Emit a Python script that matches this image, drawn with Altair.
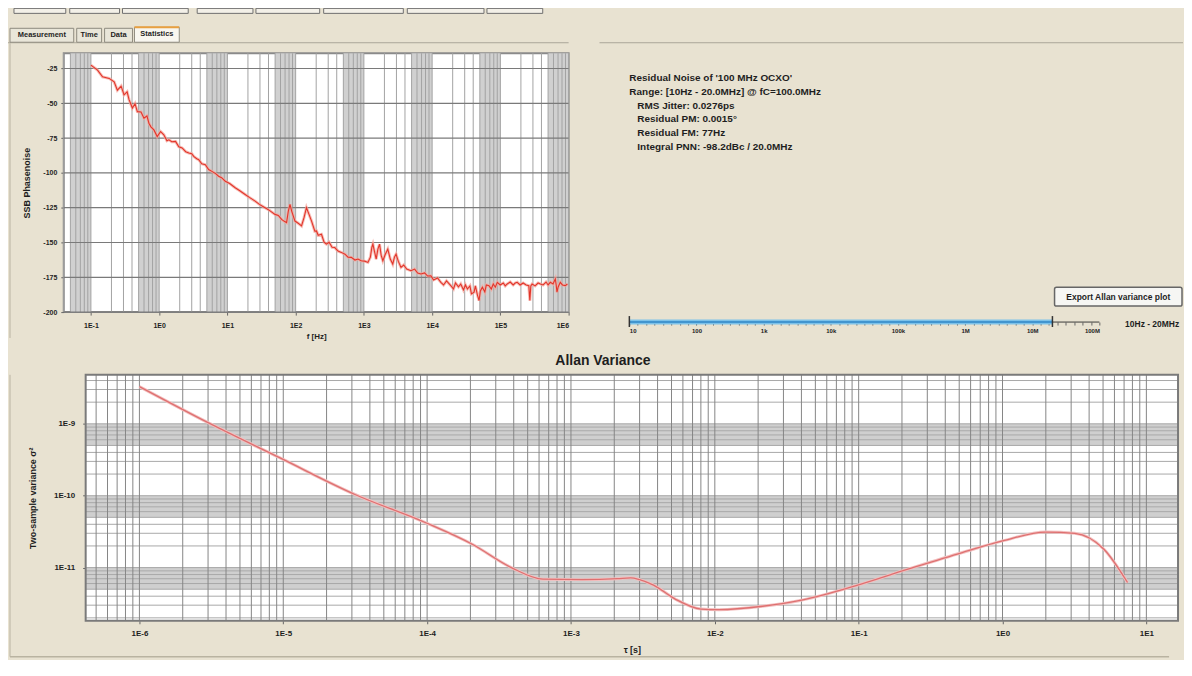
import altair as alt
import pandas as pd

FONT = "Liberation Sans"
INK = "#1e1e1e"
BG = "#e8e2d1"
FRAME = "#b9b3a1"

# ---------------- data: SSB phase noise (top plot) ----------------
pn_freq = [0.100, 0.125, 0.148, 0.185, 0.219, 0.244, 0.277, 0.306, 0.339, 0.362,
           0.405, 0.443, 0.479, 0.542, 0.599, 0.662, 0.708, 0.757, 0.838, 0.936,
           1.05, 1.17, 1.30, 1.39, 1.53, 1.74, 1.94, 2.17, 2.45, 2.72,
           3.00, 3.21, 3.55, 3.80, 4.21, 4.75, 5.31, 5.93, 6.72, 7.43,
           8.22, 9.31, 10.8, 13.0, 15.0, 18.2, 21.0, 25.5, 29.4, 35.6,
           41.2, 49.9, 55.7, 62.3, 68.2, 73.6, 78.0, 82.6, 87.7, 97.7,
           109, 122, 133, 144, 155, 171, 191, 202, 214, 239,
           261, 282, 309, 342, 374, 418, 467, 528, 585, 653,
           740, 818, 914, 1025, 1146, 1245, 1309, 1355, 1426, 1514,
           1603, 1696, 1790, 1896, 2061, 2240, 2437, 2648, 2805, 2960,
           3188, 3499, 3834, 4238, 4895, 5544, 6134, 6855, 7763, 8586,
           9594, 10500, 12000, 13430, 14700, 16250, 18770, 20560, 21980, 24320,
           26260, 28760, 30760, 32890, 35800, 37660, 41210, 43060, 46040, 48740,
           50930, 54460, 59190, 62250, 68110, 73560, 78710, 84210, 90140, 99600,
           110200, 117900, 126100, 139400, 154100, 164900, 176300, 195000, 215600, 238600,
           261200, 270300, 279300, 291700, 322800, 357100, 385500, 422500, 467000, 500000,
           539800, 590700, 638100, 657700, 675000, 703000, 754800, 812800, 893300, 961600]
pn_dbc = [-22.6, -26.2, -31.0, -32.1, -34.6, -40.6, -37.7, -43.9, -41.8, -47.4,
          -53.4, -50.3, -56.0, -56.2, -60.7, -59.1, -64.3, -66.9, -69.1, -73.9,
          -70.3, -72.6, -76.9, -76.2, -77.6, -77.4, -81.2, -82.1, -84.8, -85.7,
          -86.2, -88.1, -89.8, -90.5, -93.4, -94.1, -97.6, -98.9, -100.5, -102.4,
          -103.4, -106.0, -107.6, -110.7, -112.6, -115.5, -117.6, -120.3, -122.6, -125.0,
          -126.9, -129.8, -130.5, -133.4, -134.8, -135.7, -127.6, -122.6, -127.6, -134.6,
          -136.2, -138.1, -131.9, -125.0, -129.1, -134.6, -141.9, -141.7, -144.8, -144.1,
          -149.8, -151.2, -149.8, -153.4, -153.6, -156.2, -157.1, -158.4, -160.5, -160.7,
          -162.6, -161.9, -163.1, -163.4, -164.3, -160.5, -153.4, -151.2, -156.2, -161.9,
          -154.8, -151.2, -159.1, -163.1, -158.4, -154.8, -161.9, -165.5, -160.5, -158.4,
          -163.4, -167.9, -166.2, -169.1, -170.3, -169.1, -171.9, -172.6, -171.9, -174.1,
          -173.9, -176.9, -175.5, -178.6, -180.5, -177.6, -181.0, -183.4, -179.1, -181.9,
          -179.8, -184.1, -180.5, -183.4, -181.2, -186.9, -185.7, -181.2, -187.6, -191.7,
          -184.8, -182.1, -185.5, -180.5, -181.0, -183.4, -179.8, -182.1, -178.6, -180.5,
          -179.1, -181.2, -179.8, -178.4, -180.5, -179.1, -178.6, -180.5, -179.1, -180.5,
          -181.0, -191.7, -181.2, -179.8, -181.2, -179.1, -179.8, -180.5, -178.4, -180.5,
          -178.6, -179.8, -176.2, -180.5, -185.7, -181.9, -178.6, -180.5, -181.0, -179.8]

# ---------------- data: Allan variance (bottom plot) ----------------
av_tau = [1.0e-6, 3.05e-6, 9.5e-6, 3.15e-5, 9.8e-5, 2.06e-4, 3.85e-4, 6.4e-4, 1.2e-3,
          2.1e-3, 2.6e-3, 3.0e-3, 3.75e-3, 5.3e-3, 8.0e-3, 1.07e-2, 2.15e-2, 3.84e-2,
          8.7e-2, 0.22, 0.525, 1.0, 2.0, 3.18, 5.07, 7.4]
av_var = [3.29e-9, 1.02e-9, 3.35e-10, 1.04e-10, 4.2e-11, 2.11e-11, 1.0e-11, 6.9e-12, 6.8e-12,
          7.0e-12, 7.2e-12, 6.8e-12, 5.7e-12, 3.65e-12, 2.65e-12, 2.6e-12, 2.9e-12, 3.46e-12,
          5.3e-12, 9.5e-12, 1.62e-11, 2.35e-11, 3.12e-11, 3.0e-11, 1.8e-11, 6.2e-12]

# ---------------- tick labels and texts ----------------
pn_y_ticks = [-25, -50, -75, -100, -125, -150, -175, -200]
pn_x_decades = [0.1, 1, 10, 100, 1e3, 1e4, 1e5, 1e6]
av_x_decades = [1e-6, 1e-5, 1e-4, 1e-3, 1e-2, 1e-1, 1, 10]
av_y_decades = [1e-11, 1e-10, 1e-9]
stat_lines = ["Residual Noise of '100 MHz OCXO'",
              "Range: [10Hz - 20.0MHz] @ fC=100.0MHz",
              "RMS Jitter: 0.0276ps",
              "Residual PM: 0.0015°",
              "Residual FM: 77Hz",
              "Integral PNN: -98.2dBc / 20.0MHz"]
tab_names = ["Measurement", "Time", "Data", "Statistics"]
slider_names = ["10", "100", "1k", "10k", "100k", "1M", "10M", "100M"]
slider_range = [10, 2.0e7]
button_text = "Export Allan variance plot"
range_text = "10Hz - 20MHz"

# ---------------- helpers ----------------
one = pd.DataFrame({"k": [0]})


def const_rect(x0, x1, y0, y1, **style):
    return alt.Chart(one).mark_rect(**style).encode(
        x=alt.value(x0), x2=alt.value(x1), y=alt.value(y0), y2=alt.value(y1))


def const_text(x, y, s, size=8, align="left", **style):
    return alt.Chart(one).mark_text(
        text=s, fontSize=size, align=align, baseline="middle", font=FONT,
        fontWeight="bold", color=INK, **style).encode(x=alt.value(x), y=alt.value(y))


def const_rule(x0, x1, y0, y1, **style):
    return alt.Chart(one).mark_rule(**style).encode(
        x=alt.value(x0), x2=alt.value(x1), y=alt.value(y0), y2=alt.value(y1))


def log_grid(lo, hi, k0, k1):
    vals = []
    for k in range(k0, k1 + 1):
        for m in range(1, 10):
            v = float(f"{m}e{k}")
            if lo <= v <= hi:
                vals.append(v)
    return vals


DEC_LABEL = "'1E' + round(log(datum.value) / LN10)"
AX = dict(labelFont=FONT, titleFont=FONT, labelFontWeight="bold", titleFontWeight="bold",
          labelColor=INK, titleColor=INK, grid=False, domain=False, tickColor="#666",
          tickSize=3, labelOverlap=False)

# ---------------- top plot: SSB phase noise ----------------
TX = [0.04, 1.0e6]
TY = [-200, -14]
TW, TH = 507, 260
xs_t = alt.Scale(type="log", domain=TX, nice=False)
ys_t = alt.Scale(domain=TY, nice=False, zero=False)
t_xaxis = alt.Axis(values=pn_x_decades, labelExpr=DEC_LABEL, title="f [Hz]",
                   labelFontSize=7, titleFontSize=8, labelPadding=6, titlePadding=5, **AX)
t_yaxis = alt.Axis(values=pn_y_ticks, labelExpr="'' + datum.value", title="SSB Phasenoise",
                   labelFontSize=7, titleFontSize=9, labelPadding=4, titlePadding=11, **AX)


def tx(field):
    return alt.X(field, scale=xs_t, axis=t_xaxis)


def ty(field):
    return alt.Y(field, scale=ys_t, axis=t_yaxis)


top_bands = pd.DataFrame({"b0": [float(f"5e{k}") for k in range(-2, 6)],
                          "b1": [float(f"1e{k + 1}") for k in range(-2, 6)],
                          "y0": TY[0], "y1": TY[1]})
t_band = alt.Chart(top_bands).mark_rect(color="#d0d0d0").encode(
    x=tx("b0:Q"), x2="b1:Q", y=ty("y0:Q"), y2="y1:Q")
t_vgrid = alt.Chart(pd.DataFrame({"v": log_grid(TX[0], TX[1], -2, 6)})).mark_rule(
    color="#a2a2a2", strokeWidth=1).encode(x=tx("v:Q"))
t_hgrid = alt.Chart(pd.DataFrame({"v": pn_y_ticks})).mark_rule(
    color="#7a7a7a", strokeWidth=1.2).encode(y=ty("v:Q"))

pn = pd.DataFrame({"f": pn_freq, "dbc": pn_dbc})
t_halo = alt.Chart(pn).mark_line(color="#f4a79e", strokeWidth=3, opacity=0.75).encode(
    x=tx("f:Q"), y=ty("dbc:Q"))
t_line = alt.Chart(pn).mark_line(color="#e2352a", strokeWidth=1.1).encode(
    x=tx("f:Q"), y=ty("dbc:Q"))

# window chrome above the top plot (tool buttons and tabs), pixel offsets from the plot origin
chrome = []
for x0, x1 in [(-50, 2), (6, 56), (59, 125), (134, 190), (193, 257), (261, 341), (345, 422), (425, 481)]:
    chrome.append(const_rect(x0, x1, -45, -40, fill="#f3f0e8", stroke="#6f6f6f", strokeWidth=1))
chrome.append(const_rule(-56, TW, -10.5, -10.5, color="#a9a598", strokeWidth=1))
chrome.append(const_rule(-54, -54, -10, TH + 26, color=FRAME, strokeWidth=1))
tab_boxes = [(-54, 10), (13, 38), (41, 69), (71, 116)]
for i, (name, (x0, x1)) in enumerate(zip(tab_names, tab_boxes)):
    sel = i == len(tab_names) - 1
    chrome.append(const_rect(x0, x1, -26 if sel else -25, -11,
                             fill="#f8f6ef" if sel else "#e9e6d9", stroke="#8e8a7e", strokeWidth=1))
    chrome.append(const_text((x0 + x1) / 2, -19 if sel else -18, name, size=7.5, align="center"))
chrome.append(const_rule(71, 116, -26, -26, color="#e8a040", strokeWidth=2))

top = alt.layer(t_band, t_vgrid, t_hgrid, t_halo, t_line, *chrome).properties(
    width=TW, height=TH, view=alt.ViewBackground(fill="white", stroke="#8a8a8a", strokeWidth=2))

# ---------------- info panel (statistics, button, range slider) ----------------
IW, IH = 586, 270
SX = [10, 1e8]
xs_s = alt.Scale(type="log", domain=SX, range=[30, 502], nice=False)
slider_ticks = [10 ** (1 + i / 8) for i in range(0, 57)]
lab_arr = "[" + ",".join(f"'{s}'" for s in slider_names) + "]"
slider_expr = ("abs(log(datum.value)/LN10 - round(log(datum.value)/LN10)) < 0.01 ? "
               + lab_arr + "[round(log(datum.value)/LN10) - 1] : ''")
s_axis = alt.Axis(values=slider_ticks, labelExpr=slider_expr, title=None, orient="bottom",
                  labelFontSize=6, labelPadding=2, **AX)


def sx(field):
    return alt.X(field, scale=xs_s, axis=s_axis)


s_base = alt.Chart(pd.DataFrame({"a": [SX[0]], "b": [SX[1]]})).mark_rule(
    color="#3a3a3a", strokeWidth=1).encode(x=sx("a:Q"), x2="b:Q", y=alt.value(IH))
rng = pd.DataFrame({"a": [slider_range[0]], "b": [slider_range[1]]})
s_bar = alt.Chart(rng).mark_rule(color="#7cc2ea", strokeWidth=5).encode(
    x=sx("a:Q"), x2="b:Q", y=alt.value(IH))
s_core = alt.Chart(rng).mark_rule(color="#2f86c6", strokeWidth=1.5).encode(
    x=sx("a:Q"), x2="b:Q", y=alt.value(IH))
s_handles = alt.Chart(pd.DataFrame({"h": slider_range})).mark_rule(
    color="#333333", strokeWidth=1.5).encode(x=sx("h:Q"), y=alt.value(IH - 6), y2=alt.value(IH + 5))

info_layers = [const_rule(0, IW, -10.5, -10.5, color="#a9a598", strokeWidth=1)]
stat_pos = [(30, 25.3), (30, 39.3), (38, 52.7), (38, 66.3), (38, 80.3), (38, 94.3)]
for s, (x, y) in zip(stat_lines, stat_pos):
    info_layers.append(const_text(x, y, s, size=10))
info_layers.append(const_rect(457, 585, 235, 254, fill="#f6f6f3", stroke="#666666",
                              strokeWidth=1.5, cornerRadius=2))
info_layers.append(const_text(521, 244.5, button_text, size=8.5, align="center"))
info_layers.append(const_text(555, 272, range_text, size=8.5, align="center"))

info = alt.layer(s_base, s_bar, s_core, s_handles, *info_layers).properties(
    width=IW, height=IH, view=alt.ViewBackground(fill="transparent", stroke="transparent"))

# ---------------- bottom plot: Allan variance ----------------
BX = [4.23e-7, 16.6]
BY = [1.82e-12, 4.8e-9]
BW, BH = 1119, 247
GAP = 22
xs_b = alt.Scale(type="log", domain=BX, nice=False, range=[GAP, BW])
ys_b = alt.Scale(type="log", domain=BY, nice=False)
b_xaxis = alt.Axis(values=av_x_decades, labelExpr=DEC_LABEL, title="τ [s]",
                   labelFontSize=8, titleFontSize=9, labelPadding=6, titlePadding=8, **AX)
b_yaxis = alt.Axis(values=av_y_decades, labelExpr=DEC_LABEL, title="Two-sample variance σ²",
                   labelFontSize=8, titleFontSize=9, labelPadding=8, titlePadding=16,
                   offset=-GAP, **AX)


def bx(field):
    return alt.X(field, scale=xs_b, axis=b_xaxis)


def by(field):
    return alt.Y(field, scale=ys_b, axis=b_yaxis)


frame_df = pd.DataFrame({"x0": [BX[0]], "x1": [BX[1]], "y0": [BY[0]], "y1": [BY[1]]})
b_bg = alt.Chart(frame_df).mark_rect(color="white").encode(
    x=bx("x0:Q"), x2="x1:Q", y=by("y0:Q"), y2="y1:Q")
bot_bands = pd.DataFrame({"y0": [float(f"5e{k - 1}") for k in (-11, -10, -9)],
                          "y1": [float(f"1e{k}") for k in (-11, -10, -9)],
                          "x0": BX[0], "x1": BX[1]})
b_band = alt.Chart(bot_bands).mark_rect(color="#cfcfcf").encode(
    x=bx("x0:Q"), x2="x1:Q", y=by("y0:Q"), y2="y1:Q")
hg = pd.DataFrame({"v": log_grid(BY[0], BY[1], -13, -9)})
hg["x0"] = BX[0]
hg["x1"] = BX[1]
b_hgrid = alt.Chart(hg).mark_rule(color="#a8a8a8", strokeWidth=1).encode(
    x=bx("x0:Q"), x2="x1:Q", y=by("v:Q"))
b_vgrid = alt.Chart(pd.DataFrame({"v": log_grid(BX[0], BX[1], -7, 1)})).mark_rule(
    color="#858585", strokeWidth=1).encode(x=bx("v:Q"))

av = pd.DataFrame({"tau": av_tau, "var": av_var})
b_halo = alt.Chart(av).mark_line(color="#f3c0c0", strokeWidth=3, interpolate="monotone").encode(
    x=bx("tau:Q"), y=by("var:Q"))
b_line = alt.Chart(av).mark_line(color="#de7070", strokeWidth=1.3, interpolate="monotone").encode(
    x=bx("tau:Q"), y=by("var:Q"))
b_frame = alt.Chart(frame_df).mark_rect(fillOpacity=0, stroke="#7a7a7a", strokeWidth=2).encode(
    x=bx("x0:Q"), x2="x1:Q", y=by("y0:Q"), y2="y1:Q")
b_panel = [const_rule(-54, -54, 0, 283, color=FRAME, strokeWidth=1),
           const_rule(-54, 1110, 283, 283, color=FRAME, strokeWidth=1.5)]

bottom = alt.layer(b_bg, b_band, b_hgrid, b_vgrid, b_halo, b_line, b_frame, *b_panel).properties(
    width=BW, height=BH,
    title=alt.TitleParams("Allan Variance", font=FONT, fontSize=14, fontWeight="bold",
                          color=INK, anchor="middle", frame="group", dx=-18, offset=6),
    view=alt.ViewBackground(fill="transparent", stroke="transparent"))

row1 = alt.hconcat(top, info, spacing=24)
chart = alt.vconcat(row1, bottom, spacing=11, background=BG,
                    padding={"left": -2, "top": -3, "right": 0, "bottom": 0})

chart.save("out.html", embed_options={"renderer": "svg", "actions": False})
